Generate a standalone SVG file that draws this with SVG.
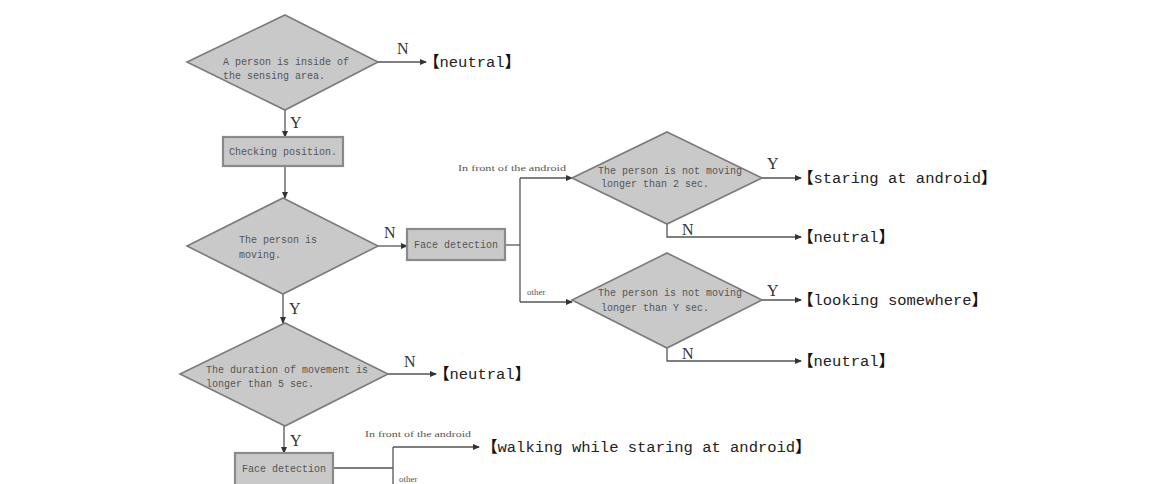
<svg xmlns="http://www.w3.org/2000/svg" width="1150" height="484" viewBox="0 0 1150 484">
<style>
.shape{fill:#c9c9c9;stroke:#7a7a7a;stroke-width:1.6}
.box{fill:#c9c9c9;stroke:#8a8a8a;stroke-width:2.2}
.in{font-family:"Liberation Mono","DejaVu Sans Mono",monospace;font-size:10px;fill:#555}
.out{font-family:"Liberation Mono","Noto Sans CJK SC",monospace;font-size:15.5px;fill:#222}
.br{font-weight:bold;fill:#111}
.yn{font-family:"Liberation Serif",serif;font-size:16px;fill:#333}
.sm{font-family:"Liberation Serif",serif;font-size:9px;fill:#555}
.ln{fill:none;stroke:#555;stroke-width:1.3}
</style>
<defs>
<marker id="ah" markerWidth="7" markerHeight="6" refX="6" refY="3" orient="auto" markerUnits="userSpaceOnUse">
<path d="M0,0 L7,3 L0,6 Z" fill="#333"/>
</marker>
</defs>
<rect width="1150" height="484" fill="#ffffff"/>
<g id="connectors">
<path class="ln" d="M378,62 H426" marker-end="url(#ah)"/>
<path class="ln" d="M285,110 V137" marker-end="url(#ah)"/>
<path class="ln" d="M285,166 V198" marker-end="url(#ah)"/>
<path class="ln" d="M378,246 H407" marker-end="url(#ah)"/>
<path class="ln" d="M283,294 V323" marker-end="url(#ah)"/>
<path class="ln" d="M505,245 H520"/>
<path class="ln" d="M520,178 V302"/>
<path class="ln" d="M520,178 H572" marker-end="url(#ah)"/>
<path class="ln" d="M520,302 H572" marker-end="url(#ah)"/>
<path class="ln" d="M762,178 H801" marker-end="url(#ah)"/>
<path class="ln" d="M667,224 V237 H801" marker-end="url(#ah)"/>
<path class="ln" d="M762,300 H801" marker-end="url(#ah)"/>
<path class="ln" d="M667,348 V361 H801" marker-end="url(#ah)"/>
<path class="ln" d="M388,374 H436" marker-end="url(#ah)"/>
<path class="ln" d="M284,426 V453" marker-end="url(#ah)"/>
<path class="ln" d="M333,468 H393"/>
<path class="ln" d="M393,447 V490"/>
<path class="ln" d="M393,447 H479" marker-end="url(#ah)"/>
<text class="yn" x="397" y="54">N</text>
<text class="yn" x="290" y="128">Y</text>
<text class="yn" x="384" y="238">N</text>
<text class="yn" x="289" y="314">Y</text>
<text class="yn" x="767" y="169">Y</text>
<text class="yn" x="682" y="235">N</text>
<text class="yn" x="767" y="296">Y</text>
<text class="yn" x="682" y="359">N</text>
<text class="yn" x="404" y="367">N</text>
<text class="yn" x="290" y="446">Y</text>
<text class="sm" x="458" y="171" textLength="108" lengthAdjust="spacingAndGlyphs">In front of the android</text>
<text class="sm" x="527" y="295">other</text>
<text class="sm" x="365" y="437" textLength="106" lengthAdjust="spacingAndGlyphs">In front of the android</text>
<text class="sm" x="399" y="482">other</text>
</g>
<g id="d1"><polygon class="shape" points="285,15 378,62 285,110 187,62"/>
<text class="in" x="223" y="65">A person is inside of</text><text class="in" x="223" y="79">the sensing area.</text></g>
<g id="b1"><rect class="box" x="223" y="137" width="120" height="29"/>
<text class="in" x="283" y="155" text-anchor="middle">Checking position.</text></g>
<g id="d2"><polygon class="shape" points="283,198 378,246 283,294 187,246"/>
<text class="in" x="239" y="243">The person is</text><text class="in" x="239" y="258">moving.</text></g>
<g id="fd1"><rect class="box" x="407" y="229" width="98" height="31"/>
<text class="in" x="456" y="248" text-anchor="middle">Face detection</text></g>
<g id="d3"><polygon class="shape" points="667,132 762,178 667,224 572,178"/>
<text class="in" x="598" y="174">The person is not moving</text><text class="in" x="601" y="187">longer than 2 sec.</text></g>
<g id="d4"><polygon class="shape" points="667,253 762,300 667,348 572,300"/>
<text class="in" x="598" y="296">The person is not moving</text><text class="in" x="601" y="311">longer than Y sec.</text></g>
<g id="d5"><polygon class="shape" points="285,323 388,374 285,426 180,374"/>
<text class="in" x="206" y="373">The duration of movement is</text><text class="in" x="206" y="387">longer than 5 sec.</text></g>
<g id="fd2"><rect class="box" x="235" y="453" width="98" height="36"/>
<text class="in" x="284" y="472" text-anchor="middle">Face detection</text></g>
<g id="o1"><text class="out" x="424" y="67"><tspan class="br">【</tspan>neutral<tspan class="br">】</tspan></text></g>
<g id="o2"><text class="out" x="798" y="183"><tspan class="br">【</tspan>staring at android<tspan class="br">】</tspan></text></g>
<g id="o3"><text class="out" x="798" y="242"><tspan class="br">【</tspan>neutral<tspan class="br">】</tspan></text></g>
<g id="o4"><text class="out" x="798" y="305"><tspan class="br">【</tspan>looking somewhere<tspan class="br">】</tspan></text></g>
<g id="o5"><text class="out" x="798" y="366"><tspan class="br">【</tspan>neutral<tspan class="br">】</tspan></text></g>
<g id="o6"><text class="out" x="434" y="379"><tspan class="br">【</tspan>neutral<tspan class="br">】</tspan></text></g>
<g id="o7"><text class="out" x="482" y="452"><tspan class="br">【</tspan>walking while staring at android<tspan class="br">】</tspan></text></g>
</svg>
